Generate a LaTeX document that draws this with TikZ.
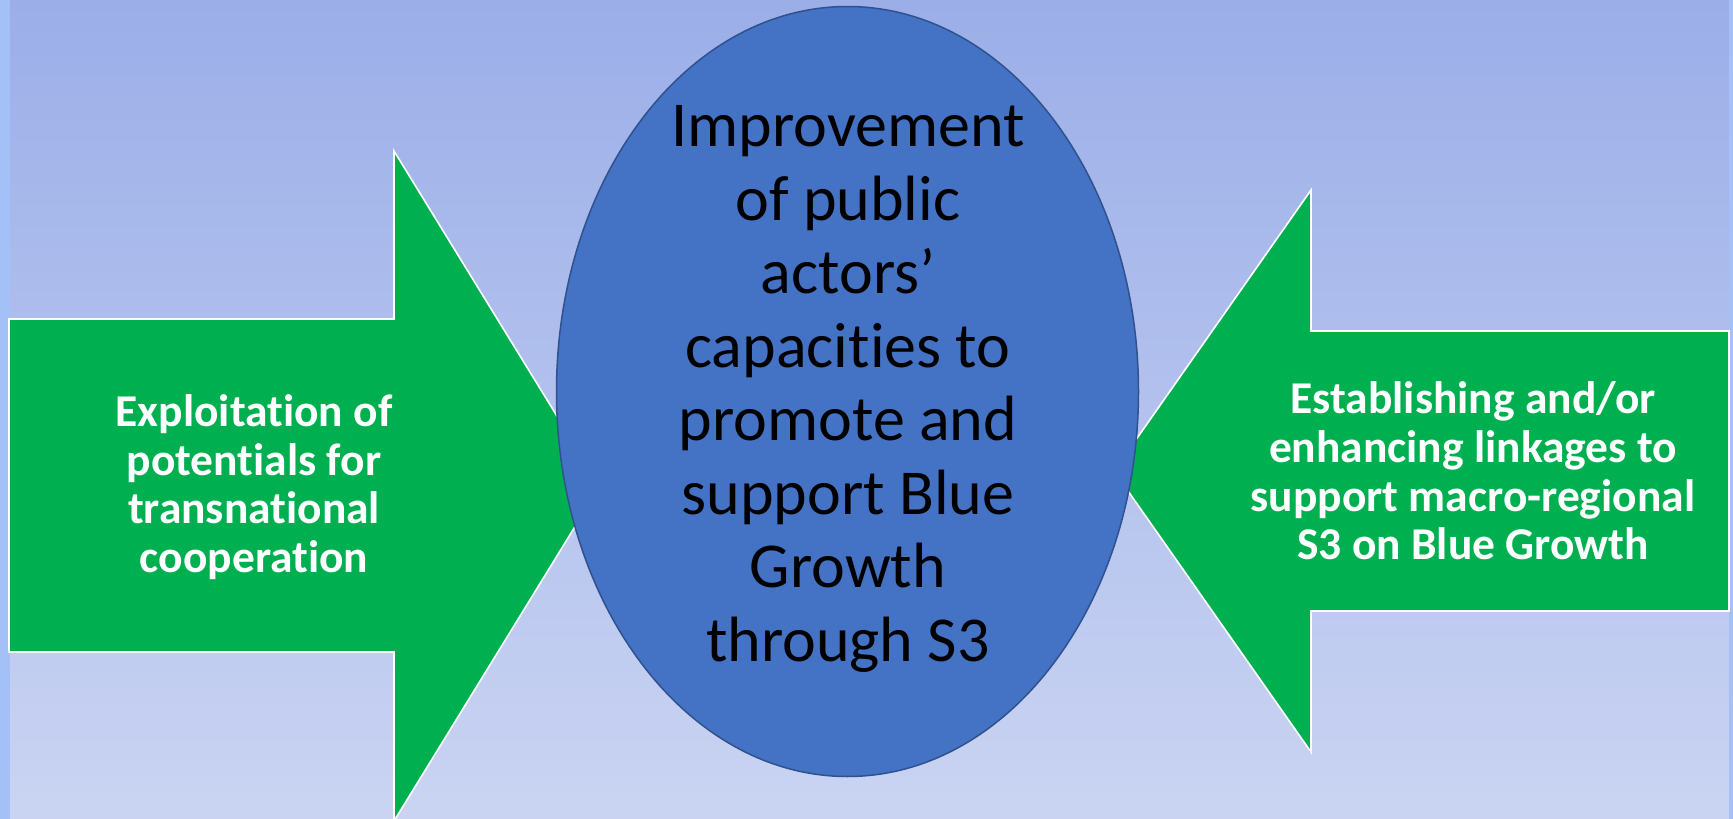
\documentclass[tikz,border=0pt]{standalone}
\usepackage{fontspec}
\setmainfont{Carlito}[Ligatures={NoCommon,NoContextual}]
\usetikzlibrary{shapes.geometric}
\definecolor{bgtop}{RGB}{155,174,232}
\definecolor{bgbot}{RGB}{202,212,242}
\definecolor{strip}{RGB}{163,193,246}
\definecolor{arrowgreen}{RGB}{0,176,80}
\definecolor{ellfill}{RGB}{68,114,196}
\definecolor{elldraw}{RGB}{47,82,143}
\tikzset{
  arrowshape/.style={fill=arrowgreen, draw=white, line width=1.6pt, line join=miter},
  sidetext/.style={text=white, align=center, inner sep=0pt, font=\fontsize{45.5}{48.6}\selectfont\bfseries},
  centertext/.style={text=black, align=center, inner sep=0pt, font=\fontsize{64}{73.5}\selectfont},
  hub/.style={ellipse, fill=ellfill, draw=elldraw, line width=1.5pt, minimum width=582pt, minimum height=770pt, inner sep=0pt}
}
\begin{document}
\begin{tikzpicture}[x=1pt,y=-1pt]
\useasboundingbox (0,0) rectangle (1733,819);
\shade[top color=bgtop, bottom color=bgbot] (0,0) rectangle (1733,819);
\fill[strip] (0,0) rectangle (9.5,819);
\fill[strip] (1729,0) rectangle (1733,819);
% left arrow
\path[arrowshape] (9,319) -- (394,319) -- (394,151) -- (600,486) -- (394,821) -- (394,652) -- (9,652) -- cycle;
% right arrow
\path[arrowshape] (1729,331) -- (1311,331) -- (1311,190) -- (1114,471) -- (1311,752) -- (1311,611) -- (1729,611) -- cycle;
% central ellipse
\node[hub] (hub) at (847.5,391.5) {};
\node[centertext] (hubtext) at (848,389) {Improvement\\of public\\actors’\\capacities to\\promote and\\support Blue\\Growth\\through S3};
\node[sidetext] (lefttext) at (254,487) {Exploitation of\\potentials for\\transnational\\cooperation};
\node[sidetext] (righttext) at (1473,471) {Establishing and/or\\enhancing linkages to\\support macro-regional\\S3 on Blue Growth};
\end{tikzpicture}
\end{document}
